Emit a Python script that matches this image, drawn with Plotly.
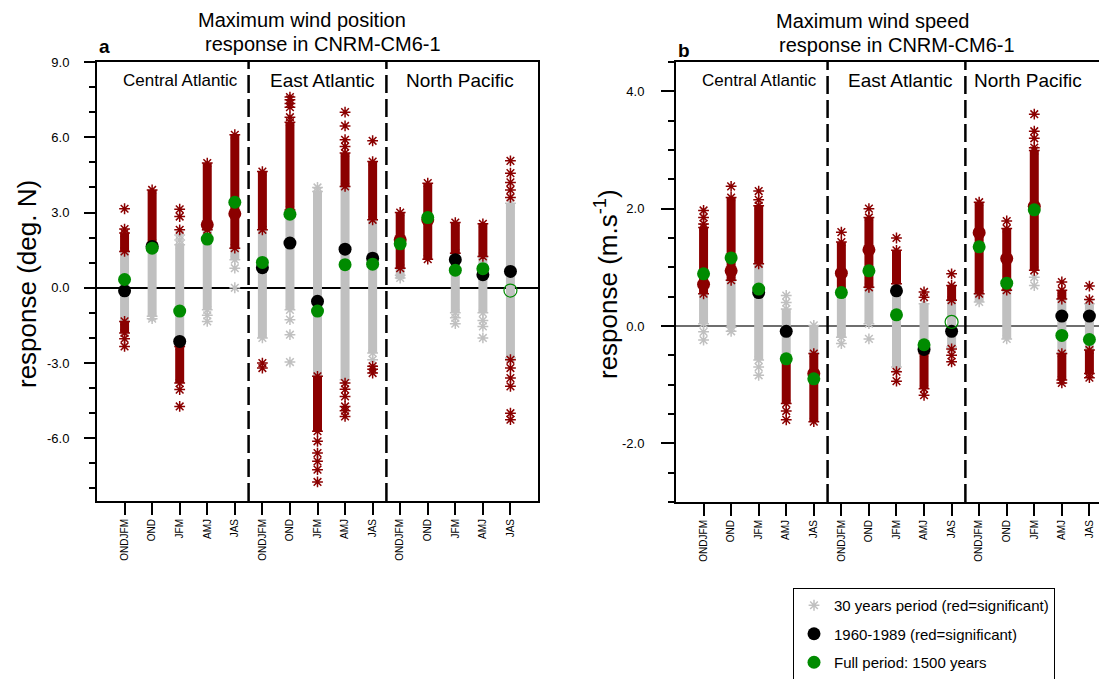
import plotly.graph_objects as go

# page has an 8px body margin, so the figure is drawn 8px in and down
OFF = 8
W, H = 1107 - OFF, 679 - OFF

SEASONS = ["ONDJFM", "OND", "JFM", "AMJ", "JAS"]
CATEGORIES = SEASONS * 3
X_POS = list(range(1, 16))
REGIONS = ["Central Atlantic", "East Atlantic", "North Pacific"]

# ---------------- Panel a: maximum wind position (deg. N) ----------------
A_GRAY = [[-1.34, 1.45], [-1.14, 1.78], [-2.34, 1.71], [-0.88, 2.31], [1.12, 1.58],
          [-2.0, 2.31], [-0.88, 3.1], [-3.53, 3.84], [-3.67, 4.04], [-2.6, 2.71],
          [0.39, 0.78], None, [-1.0, 1.38], [-1.0, 1.25], [-2.8, 3.37]]
A_RED_UP = [[1.45, 2.18], [1.78, 3.9], None, [2.31, 4.97], [1.58, 6.1],
            [2.31, 4.63], [3.1, 6.6], None, [4.04, 5.37], [2.71, 5.03],
            [0.78, 3.0], [1.14, 4.17], [1.38, 2.6], [1.25, 2.55], None]
A_RED_DN = [[-1.8, -1.34], None, [-3.8, -2.34], None, None,
            None, None, [-5.72, -3.53], None, None,
            None, None, None, None, None]
A_RED_OUT = [[3.15, 2.34, -2.03, -2.34], [], [3.13, 2.84, 2.31, -4.06, -4.73], [], [],
             [-3.0, -3.2], [6.8, 7.2, 7.35, 7.5, 7.6], [-6.12, -6.59, -6.92, -7.25, -7.74],
             [7.0, 6.45, 5.9, 5.63, -3.8, -4.05, -4.33, -4.73, -4.9, -5.13],
             [5.86, -3.13, -3.25, -3.4], [], [], [], [],
             [5.06, 4.57, 4.2, 3.9, 3.6, -2.87, -3.2, -3.6, -3.93, -5.0, -5.26]]
A_GRAY_OUT = [[], [-1.23], [2.1, 1.9], [-1.1, -1.34], [0.78, 0.0],
              [], [-1.27, -1.87, -2.96], [4.0], [], [-2.87],
              [0.5], [], [-1.2, -1.43], [-1.3, -1.54, -2.0], []]
A_P1960 = [-0.12, 1.65, -2.14, 2.51, 2.95, 0.8, 1.78, -0.54, 1.54, 1.18, 1.91, 2.71, 1.12, 0.52, 0.65]
A_P1960_SIG = [0, 0, 0, 1, 1, 0, 0, 0, 0, 0, 1, 1, 0, 0, 0]
A_FULL = [0.33, 1.58, -0.93, 1.94, 3.41, 1.01, 2.93, -0.93, 0.92, 0.94, 1.75, 2.8, 0.7, 0.76, -0.11]
A_FULL_SIG = [1, 1, 1, 1, 1, 1, 1, 1, 1, 1, 1, 1, 1, 1, 0]
A_YTICKS = [-6, -3, 0, 3, 6, 9]
A_YTICKTEXT = ["-6.0", "-3.0", "0.0", "3.0", "6.0", "9.0"]

# ---------------- Panel b: maximum wind speed (m/s) ----------------
B_GRAY = [[0.04, 0.55], [-0.02, 0.78], [-0.58, 1.06], [-0.58, 0.29], [-0.47, 0.01],
          [-0.19, 0.61], [0.04, 0.66], [-0.7, 0.72], [-0.47, 0.38], [-0.36, 0.44],
          [0.41, 0.55], [-0.22, 0.61], None, [-0.47, 0.46], [-0.41, 0.38]]
B_RED_UP = [[0.55, 1.68], [0.78, 2.19], [1.06, 2.05], None, None,
            [0.61, 1.43], [0.66, 1.85], [0.72, 1.29], None, [0.44, 0.69],
            [0.55, 2.11], [0.61, 1.66], [0.95, 2.99], [0.46, 0.61], None]
B_RED_DN = [None, None, None, [-1.32, -0.58], [-1.63, -0.47],
            None, None, None, [-1.07, -0.47], None,
            None, None, None, [-0.92, -0.47], [-0.81, -0.41]]
B_RED_OUT = [[1.97, 1.85, 1.74], [2.38], [2.3, 2.15], [-1.45, -1.6], [],
             [1.6], [2.0], [1.5, -0.78, -0.94], [0.58, 0.49, -1.18], [0.89, -0.39, -0.5, -0.61],
             [], [1.79], [3.61, 3.32, 3.2, 3.04], [0.75, -0.97], [0.68, 0.45, -0.88]]
B_GRAY_OUT = [[-0.1, -0.24], [-0.09], [-0.7, -0.84], [0.52, 0.4], [],
              [-0.3], [-0.22], [], [], [],
              [], [], [0.83, 0.69], [], []]
B_P1960 = [0.71, 0.94, 0.57, -0.09, -0.81, 0.9, 1.3, 0.6, -0.4, -0.09, 1.59, 1.15, 2.04, 0.17, 0.17]
B_P1960_SIG = [1, 1, 0, 0, 1, 1, 1, 0, 0, 0, 1, 1, 1, 0, 0]
B_FULL = [0.89, 1.16, 0.63, -0.56, -0.9, 0.57, 0.94, 0.19, -0.32, 0.07, 1.35, 0.73, 1.98, -0.16, -0.23]
B_FULL_SIG = [1, 1, 1, 1, 1, 1, 1, 1, 1, 0, 1, 1, 1, 1, 1]
B_YTICKS = [-2, 0, 2, 4]
B_YTICKTEXT = ["-2.0", "0.0", "2.0", "4.0"]

RED = "rgb(139,0,0)"
GRAY = "rgb(192,192,192)"
GREEN = "rgb(0,139,0)"
BLACK = "black"
FONT = "Liberation Sans, Arial, Helvetica, sans-serif"

fig = go.Figure()


def seg_xy(segs):
    xs, ys = [], []
    for x, s in zip(X_POS, segs):
        if s is None:
            continue
        xs += [x, x, None]
        ys += [s[0], s[1], None]
    return xs, ys


def pts(segs_list, outs):
    xs, ys = [], []
    for segs in segs_list:
        for x, s in zip(X_POS, segs):
            if s is None:
                continue
            xs += [x, x]
            ys += [s[0], s[1]]
    for x, o in zip(X_POS, outs):
        for v in o:
            xs.append(x)
            ys.append(v)
    return xs, ys


def add_panel(gray, red_up, red_dn, red_out, gray_out, p60, p60sig, full, fullsig, xa, ya, legend):
    xs, ys = seg_xy(gray)
    fig.add_trace(go.Scatter(x=xs, y=ys, mode="lines", line=dict(color=GRAY, width=9),
                             xaxis=xa, yaxis=ya, showlegend=False, hoverinfo="skip"))
    xs, ys = pts([gray], gray_out)
    fig.add_trace(go.Scatter(x=xs, y=ys, mode="markers", xaxis=xa, yaxis=ya,
                             marker=dict(symbol="asterisk", size=9, line=dict(color=GRAY, width=1.5)),
                             name="30 years period (red=significant)", legendgroup="g1",
                             showlegend=legend, hoverinfo="skip"))
    xs1, ys1 = seg_xy(red_up)
    xs2, ys2 = seg_xy(red_dn)
    fig.add_trace(go.Scatter(x=xs1 + xs2, y=ys1 + ys2, mode="lines", line=dict(color=RED, width=9),
                             xaxis=xa, yaxis=ya, showlegend=False, hoverinfo="skip"))
    xs, ys = pts([red_up, red_dn], red_out)
    fig.add_trace(go.Scatter(x=xs, y=ys, mode="markers", xaxis=xa, yaxis=ya,
                             marker=dict(symbol="asterisk", size=9, line=dict(color=RED, width=1.5)),
                             showlegend=False, hoverinfo="skip"))
    bx = [x for x, s in zip(X_POS, p60sig) if not s]
    by = [v for v, s in zip(p60, p60sig) if not s]
    rx = [x for x, s in zip(X_POS, p60sig) if s]
    ry = [v for v, s in zip(p60, p60sig) if s]
    fig.add_trace(go.Scatter(x=bx, y=by, mode="markers", xaxis=xa, yaxis=ya,
                             marker=dict(symbol="circle", size=13, color=BLACK),
                             name="1960-1989 (red=significant)", legendgroup="g2",
                             showlegend=legend, hoverinfo="skip"))
    fig.add_trace(go.Scatter(x=rx, y=ry, mode="markers", xaxis=xa, yaxis=ya,
                             marker=dict(symbol="circle", size=13, color=RED),
                             showlegend=False, hoverinfo="skip"))
    gx = [x for x, s in zip(X_POS, fullsig) if s]
    gy = [v for v, s in zip(full, fullsig) if s]
    ox = [x for x, s in zip(X_POS, fullsig) if not s]
    oy = [v for v, s in zip(full, fullsig) if not s]
    fig.add_trace(go.Scatter(x=gx, y=gy, mode="markers", xaxis=xa, yaxis=ya,
                             marker=dict(symbol="circle", size=13, color=GREEN),
                             name="Full period: 1500 years", legendgroup="g3",
                             showlegend=legend, hoverinfo="skip"))
    fig.add_trace(go.Scatter(x=ox, y=oy, mode="markers", xaxis=xa, yaxis=ya,
                             marker=dict(symbol="circle-open", size=13, color=GREEN,
                                         line=dict(color=GREEN, width=1.2)),
                             showlegend=False, hoverinfo="skip"))


add_panel(A_GRAY, A_RED_UP, A_RED_DN, A_RED_OUT, A_GRAY_OUT, A_P1960, A_P1960_SIG,
          A_FULL, A_FULL_SIG, "x", "y", True)
add_panel(B_GRAY, B_RED_UP, B_RED_DN, B_RED_OUT, B_GRAY_OUT, B_P1960, B_P1960_SIG,
          B_FULL, B_FULL_SIG, "x2", "y2", False)


def px_x(p):
    return (p - OFF) / W


def px_y(p):
    return 1 - (p - OFF) / H


xcommon = dict(tickmode="array", tickvals=X_POS, ticktext=CATEGORIES, tickangle=-90,
               ticks="outside", ticklen=12, tickwidth=2, tickcolor="black",
               showline=True, linecolor="black", linewidth=2, showgrid=False, zeroline=False,
               tickfont=dict(family=FONT, size=10, color="black"), fixedrange=True)

fig.update_layout(
    width=W, height=H,
    margin=dict(l=0, r=0, t=0, b=0, autoexpand=False),
    paper_bgcolor="white", plot_bgcolor="white",
    font=dict(family=FONT, color="black"),
    xaxis=dict(domain=[px_x(97), px_x(538)], range=[0, 16], mirror=True, anchor="y", **xcommon),
    yaxis=dict(domain=[px_y(501), px_y(62)], range=[-8.5, 9.0], anchor="x",
               tickmode="array", tickvals=A_YTICKS, ticktext=A_YTICKTEXT,
               ticks="outside", ticklen=11, tickwidth=2, tickcolor="black",
               minor=dict(dtick=1, tick0=0, ticks="outside", ticklen=6, tickwidth=1.5, tickcolor="black"),
               ticklabelstandoff=12,
               showline=True, linecolor="black", linewidth=2, mirror=True, showgrid=False,
               zeroline=True, zerolinecolor="black", zerolinewidth=1.5,
               tickfont=dict(family=FONT, size=13, color="black")),
    xaxis2=dict(domain=[px_x(676), 1.0], range=[0, (1107 - 676) / 27.56], mirror=True, anchor="y2", **xcommon),
    yaxis2=dict(domain=[px_y(502), px_y(62)], range=[-3.0, 4.5], anchor="x2",
                tickmode="array", tickvals=B_YTICKS, ticktext=B_YTICKTEXT,
                ticks="outside", ticklen=13, tickwidth=2, tickcolor="black",
                minor=dict(dtick=0.5, tick0=0, ticks="outside", ticklen=6, tickwidth=1.5, tickcolor="black"),
                ticklabelstandoff=14,
                showline=True, linecolor="black", linewidth=2, mirror=False, showgrid=False,
                zeroline=True, zerolinecolor="rgb(110,110,110)", zerolinewidth=1.5,
                tickfont=dict(family=FONT, size=13, color="black")),
    legend=dict(x=px_x(793), y=px_y(588), xanchor="left", yanchor="top",
                bordercolor="black", borderwidth=1, bgcolor="white",
                font=dict(family=FONT, size=15, color="black"),
                traceorder="grouped", tracegroupgap=6),
    showlegend=True,
)

for xa in ["x", "x2"]:
    for xv in [5.5, 10.5]:
        fig.add_shape(type="line", xref=xa, yref=("y" if xa == "x" else "y2") + " domain",
                      x0=xv, x1=xv, y0=0, y1=1,
                      line=dict(color="black", width=2.5, dash="18px,6px"))

ann = []
ann.append(dict(text="Maximum wind position", x=px_x(302), y=px_y(20)))
ann.append(dict(text="response in CNRM-CM6-1", x=px_x(323), y=px_y(44)))
ann.append(dict(text="Maximum wind speed", x=px_x(872), y=px_y(21)))
ann.append(dict(text="response in CNRM-CM6-1", x=px_x(897), y=px_y(45)))
for a in ann:
    a.update(xref="paper", yref="paper", showarrow=False, xanchor="center", yanchor="middle",
             font=dict(family=FONT, size=20, color="black"))

ann.append(dict(text="<b>a</b>", x=px_x(104), y=px_y(46), xref="paper", yref="paper",
                showarrow=False, xanchor="center", yanchor="middle",
                font=dict(family=FONT, size=19, color="black")))
ann.append(dict(text="<b>b</b>", x=px_x(684), y=px_y(50), xref="paper", yref="paper",
                showarrow=False, xanchor="center", yanchor="middle",
                font=dict(family=FONT, size=19, color="black")))

for cx, sz, txt in [(180, 17, REGIONS[0]), (322, 19, REGIONS[1]), (460, 19, REGIONS[2]),
                    (759, 17, REGIONS[0]), (900, 19, REGIONS[1]), (1028, 19, REGIONS[2])]:
    ann.append(dict(text=txt, x=px_x(cx), y=px_y(80), xref="paper", yref="paper",
                    showarrow=False, xanchor="center", yanchor="middle",
                    font=dict(family=FONT, size=sz, color="black")))

ann.append(dict(text="response (deg. N)", x=px_x(27), y=px_y(284), xref="paper", yref="paper",
                showarrow=False, textangle=-90, xanchor="center", yanchor="middle",
                font=dict(family=FONT, size=26, color="black")))
ann.append(dict(text="response (m.s<sup>-1</sup>)", x=px_x(606), y=px_y(284), xref="paper", yref="paper",
                showarrow=False, textangle=-90, xanchor="center", yanchor="middle",
                font=dict(family=FONT, size=26, color="black")))

fig.update_layout(annotations=ann)

fig.write_html("out.html")
